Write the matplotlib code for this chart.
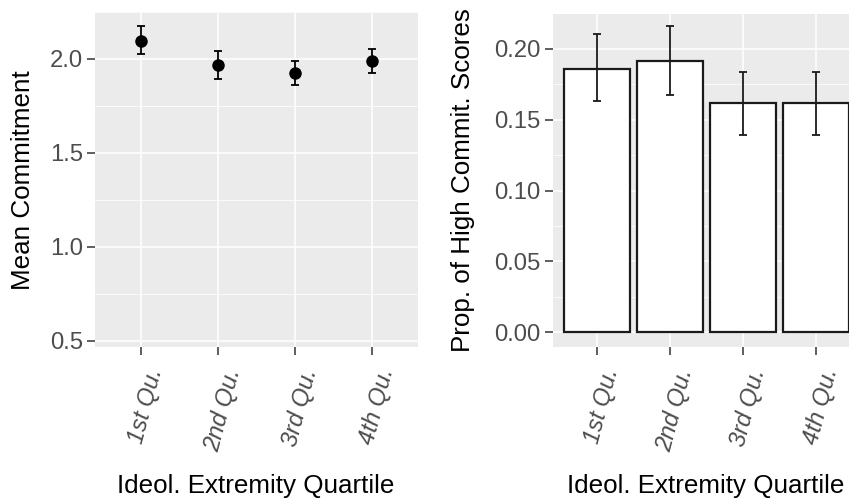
import matplotlib
matplotlib.use("Agg")
import matplotlib.pyplot as plt
from matplotlib.transforms import ScaledTranslation
import numpy as np

categories = ["1st Qu.", "2nd Qu.", "3rd Qu.", "4th Qu."]

# Left panel: mean commitment with error bars
mean_commit = [2.097, 1.968, 1.927, 1.989]
mean_lo = [2.025, 1.894, 1.862, 1.924]
mean_hi = [2.174, 2.044, 1.991, 2.055]

# Right panel: proportion of high commitment scores
prop_high = [0.1859, 0.1915, 0.1619, 0.1619]
prop_lo = [0.1636, 0.1675, 0.1393, 0.1393]
prop_hi = [0.2104, 0.2160, 0.1835, 0.1835]

left_yticks = [0.5, 1.0, 1.5, 2.0]
left_minor = [0.75, 1.25, 1.75, 2.25]
right_yticks = [0.00, 0.05, 0.10, 0.15, 0.20]
right_minor = [0.025, 0.075, 0.125, 0.175]

FONT = "Liberation Sans"
plt.rcParams["font.family"] = [FONT, "DejaVu Sans"]

W, H = 849, 500
fig = plt.figure(figsize=(W / 100, H / 100), dpi=100)

BG = "#EBEBEB"
TICKCOL = "#4D4D4D"
TICK_FS = 17.2
TITLE_FS = 18.7


def px_axes(x0, x1, ytop, ybot):
    return fig.add_axes([x0 / W, 1 - ybot / H, (x1 - x0) / W, (ybot - ytop) / H])


def style(ax, yticks, yminor, fmt):
    ax.set_facecolor(BG)
    for s in ax.spines.values():
        s.set_visible(False)
    x = np.arange(1, len(categories) + 1)
    ax.set_xlim(0.4, len(categories) + 0.6)
    ax.set_xticks(x)
    ax.set_xticklabels(categories, rotation=75, ha="center", va="top",
                       fontstyle="italic", fontsize=TICK_FS, color=TICKCOL)
    ax.set_yticks(yticks)
    ax.set_yticklabels([fmt.format(v) for v in yticks], fontsize=TICK_FS, color=TICKCOL)
    ax.set_yticks(yminor, minor=True)
    ax.tick_params(axis="y", which="minor", length=0)
    ax.tick_params(axis="both", which="major", length=5.8, width=1.1, color="#333333")
    ax.tick_params(axis="y", which="major", pad=3.0)
    ax.tick_params(axis="x", which="major", pad=7.8)
    ax.grid(True, which="major", color="white", linewidth=1.1)
    ax.grid(True, which="minor", axis="y", color="white", linewidth=0.55)
    ax.set_axisbelow(True)
    off = ScaledTranslation(5 / 100, 0, fig.dpi_scale_trans)
    for lab in ax.get_xticklabels():
        lab.set_transform(lab.get_transform() + off)
    return x


# Left panel
ax1 = px_axes(95, 418, 12, 347)
x = style(ax1, left_yticks, left_minor, "{:.1f}")
ax1.set_ylim(0.468, 2.25)
m = np.array(mean_commit)
yerr = [m - np.array(mean_lo), np.array(mean_hi) - m]
ax1.errorbar(x, m, yerr=yerr, fmt="o", color="black", markersize=8,
             elinewidth=1.3, capsize=2.7, capthick=1.3, zorder=3)

# Right panel (extends past the right edge of the figure)
ax2 = px_axes(553, 860, 14, 347)
x = style(ax2, right_yticks, right_minor, "{:.2f}")
ax2.set_ylim(-0.0104, 0.2247)
p = np.array(prop_high)
ax2.bar(x, p, width=0.9, color="white", edgecolor="#1a1a1a", linewidth=1.6, zorder=2)
yerr2 = [p - np.array(prop_lo), np.array(prop_hi) - p]
ax2.errorbar(x, p, yerr=yerr2, fmt="none", ecolor="#1a1a1a",
             elinewidth=1.3, capsize=3.2, capthick=1.3, zorder=3)

# Axis titles
fig.text(256 / W, 1 - 493 / H, "Ideol. Extremity Quartile", ha="center", va="baseline",
         fontsize=TITLE_FS, color="black")
fig.text(706 / W, 1 - 493 / H, "Ideol. Extremity Quartile", ha="center", va="baseline",
         fontsize=TITLE_FS, color="black")
fig.text(23 / W, 1 - 180 / H, "Mean Commitment", rotation=90, ha="center", va="center",
         fontsize=TITLE_FS, color="black")
fig.text(463 / W, 1 - 180 / H, "Prop. of High Commit. Scores", rotation=90, ha="center",
         va="center", fontsize=TITLE_FS, color="black")

fig.savefig("out.png", dpi=100, facecolor="white")
